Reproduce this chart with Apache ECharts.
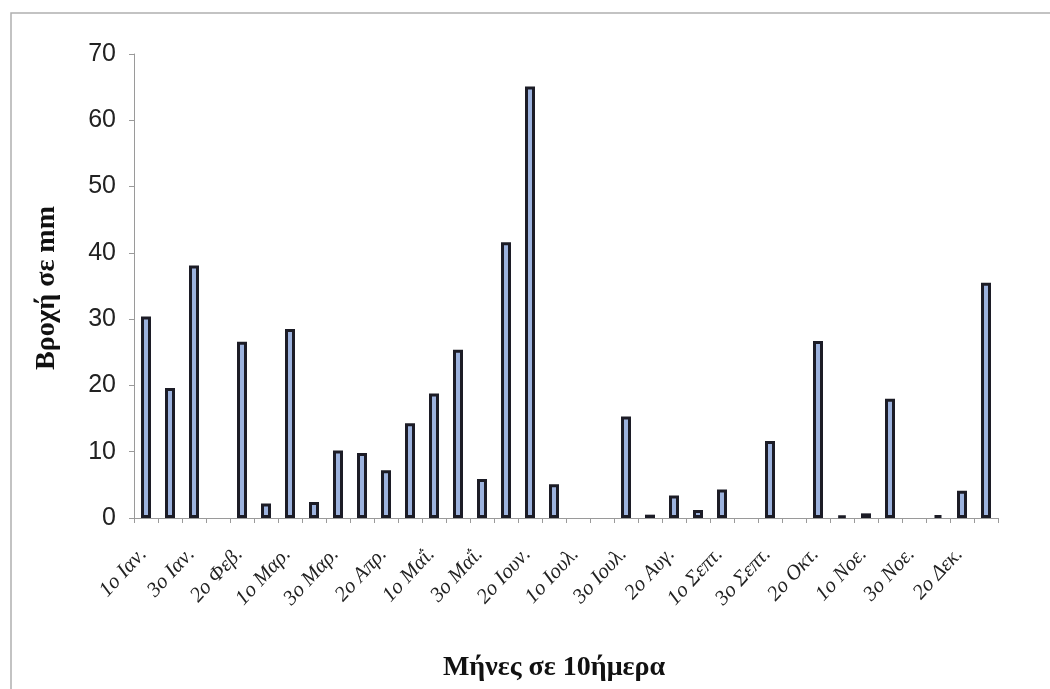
<!DOCTYPE html>
<html>
<head>
<meta charset="utf-8">
<script src="https://cdn.jsdelivr.net/npm/echarts@6/dist/echarts.min.js"></script>
<style>
html,body{margin:0;padding:0;background:#fff;}
#chart{width:1050px;height:689px;}
</style>
</head>
<body>
<div id="chart"></div>
<script>
const months = ['Ιαν.','Φεβ.','Μαρ.','Απρ.','Μαΐ.','Ιουν.','Ιουλ.','Αυγ.','Σεπτ.','Οκτ.','Νοε.','Δεκ.'];
const decades = ['1ο','2ο','3ο'];
const categories = [];
months.forEach(m => decades.forEach(d => categories.push(d + ' ' + m)));

const rainfall = [
  30.4, 19.6, 38.1,
  0, 26.6, 2.2,
  28.5, 2.4, 10.2,
  9.8, 7.2, 14.3,
  18.8, 25.4, 5.9,
  41.6, 65.1, 5.1,
  0, 0, 15.3,
  0.5, 3.4, 1.2,
  4.3, 0, 11.6,
  0, 26.7, 0.35,
  0.7, 18.0, 0,
  0.45, 4.1, 35.5
];

const yTitle = 'Βροχή σε mm';
const xTitle = 'Μήνες σε 10ήμερα';

// zero rainfall draws no bar (no border stub)
const barData = rainfall.map(v => (v === 0 ? null : v));

const chart = echarts.init(document.getElementById('chart'));
chart.setOption({
  animation: false,
  backgroundColor: '#ffffff',
  grid: {left: 134, right: 52, top: 54, bottom: 171, containLabel: false},
  graphic: [
    {type: 'rect', shape: {x: 11, y: 13, width: 1100, height: 700},
     style: {fill: 'none', stroke: '#b0b0b0', lineWidth: 1.5}, silent: true},
    {type: 'text', x: 554, y: 668,
     style: {text: xTitle, font: 'bold 28px "Liberation Serif", serif', fill: '#111', textAlign: 'center', textVerticalAlign: 'middle'}},
    {type: 'text', rotation: Math.PI / 2, x: 47, y: 288,
     style: {text: yTitle, font: 'bold 28px "Liberation Serif", serif', fill: '#111', textAlign: 'center', textVerticalAlign: 'middle'}}
  ],
  xAxis: {
    type: 'category',
    data: categories,
    boundaryGap: true,
    axisLine: {show: true, lineStyle: {color: '#9a9a9a', width: 1}},
    axisTick: {show: true, interval: 0, length: 5, lineStyle: {color: '#9a9a9a'}},
    axisLabel: {
      interval: 1,
      rotate: 47,
      margin: 30,
      padding: [0, 4, 0, 0],
      fontFamily: '"Liberation Serif", serif',
      fontStyle: 'italic',
      fontSize: 21,
      color: '#222'
    },
    splitLine: {show: false}
  },
  yAxis: {
    type: 'value',
    min: 0, max: 70, interval: 10,
    axisLine: {show: true, lineStyle: {color: '#9a9a9a', width: 1}},
    axisTick: {show: true, length: 5, lineStyle: {color: '#9a9a9a'}},
    axisLabel: {
      margin: 18,
      fontFamily: '"Liberation Sans", Arial, sans-serif',
      fontSize: 25,
      color: '#222'
    },
    splitLine: {show: false}
  },
  series: [{
    type: 'bar',
    data: barData,
    barWidth: 10,
    itemStyle: {color: '#9db3de', borderColor: '#1c1c26', borderWidth: 3}
  }]
});
</script>
</body>
</html>
